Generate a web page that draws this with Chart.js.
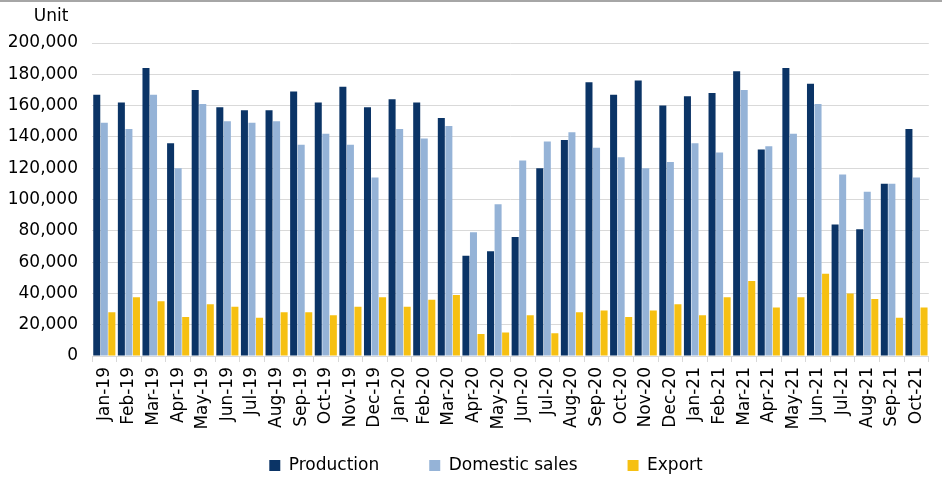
<!DOCTYPE html>
<html>
<head>
<meta charset="utf-8">
<script src="https://cdn.jsdelivr.net/npm/chart.js@4.4.1/dist/chart.umd.min.js"></script>
<style>
  html, body { margin: 0; padding: 0; background: #fff; }
  #wrap { width: 942px; height: 479px; position: relative; box-sizing: border-box; border-top: 2px solid #a6a6a6; }
</style>
</head>
<body>
<div id="wrap"><canvas id="chart"></canvas></div>
<script>
// Monthly vehicle figures, Jan 2019 - Oct 2021
const months = [
  'Jan-19', 'Feb-19', 'Mar-19', 'Apr-19', 'May-19', 'Jun-19', 'Jul-19', 'Aug-19', 'Sep-19', 'Oct-19', 'Nov-19', 'Dec-19',
  'Jan-20', 'Feb-20', 'Mar-20', 'Apr-20', 'May-20', 'Jun-20', 'Jul-20', 'Aug-20', 'Sep-20', 'Oct-20', 'Nov-20', 'Dec-20',
  'Jan-21', 'Feb-21', 'Mar-21', 'Apr-21', 'May-21', 'Jun-21', 'Jul-21', 'Aug-21', 'Sep-21', 'Oct-21'
];

const production = [
  167000, 162000, 184000, 136000, 170000, 159000, 157000, 157000, 169000, 162000, 172000, 159000,
  164000, 162000, 152000, 64000, 67000, 76000, 120000, 138000, 175000, 167000, 176000, 160000,
  166000, 168000, 182000, 132000, 184000, 174000, 84000, 81000, 110000, 145000
];

const domesticSales = [
  149000, 145000, 167000, 120000, 161000, 150000, 149000, 150000, 135000, 142000, 135000, 114000,
  145000, 139000, 147000, 79000, 97000, 125000, 137000, 143000, 133000, 127000, 120000, 124000,
  136000, 130000, 170000, 134000, 142000, 161000, 116000, 105000, 110000, 114000
];

const exportUnits = [
  28000, 37500, 35000, 25000, 33000, 31500, 24500, 28000, 28000, 26000, 31500, 37500,
  31500, 36000, 39000, 14000, 15000, 26000, 14500, 28000, 29000, 25000, 29000, 33000,
  26000, 37500, 48000, 31000, 37500, 52500, 40000, 36500, 24500, 31000
];

const yTicks = [0, 20000, 40000, 60000, 80000, 100000, 120000, 140000, 160000, 180000, 200000];

const FONT = "'DejaVu Sans', Verdana, sans-serif";
const GRID = '#d9d9d9';

// "Unit" caption above the value axis
const unitLabel = {
  id: 'unitLabel',
  afterDraw(chart) {
    const ctx = chart.ctx;
    ctx.save();
    ctx.font = '17px ' + FONT;
    ctx.fillStyle = '#000';
    ctx.textAlign = 'center';
    ctx.textBaseline = 'middle';
    ctx.fillText('Unit', 51, 15);
    ctx.restore();
  }
};

// the legend padding is wide to space the items apart; cap the box height
// so it does not eat the room needed by the rotated month labels, and
// nudge the row a little to the right
const legendFit = {
  id: 'legendFit',
  beforeLayout(chart) {
    const lg = chart.legend;
    if (lg && !lg._fitWrapped) {
      const fit = lg.fit.bind(lg);
      lg.fit = function () {
        fit();
        this.height = 72;
        this.lineWidths[0] -= 34;
      };
      lg._fitWrapped = true;
    }
  }
};

new Chart(document.getElementById('chart'), {
  type: 'bar',
  data: {
    labels: months,
    datasets: [
      { label: 'Production', data: production, backgroundColor: '#0b3466' },
      { label: 'Domestic sales', data: domesticSales, backgroundColor: '#95b3d7' },
      { label: 'Export', data: exportUnits, backgroundColor: '#f6c012' }
    ]
  },
  options: {
    responsive: true,
    maintainAspectRatio: false,
    animation: false,
    datasets: {
      bar: { categoryPercentage: 0.92, barPercentage: 0.93 }
    },
    layout: { padding: { top: 41, left: 4, right: 8, bottom: 0 } },
    plugins: {
      tooltip: { enabled: false },
      legend: {
        position: 'bottom',
        labels: {
          font: { family: FONT, size: 17 },
          color: '#000',
          boxWidth: 11,
          boxHeight: 11,
          padding: 50
        }
      }
    },
    scales: {
      x: {
        afterFit(scale) {
          scale.height = 51;
          // month labels run past the shortened box, so don't clip them to it
          scale._computeLabelArea = () => undefined;
        },
        grid: {
          offset: true,
          drawOnChartArea: false,
          drawTicks: true,
          tickLength: 6,
          color: GRID
        },
        border: { display: true, color: GRID },
        ticks: {
          autoSkip: false,
          minRotation: 90,
          maxRotation: 90,
          padding: 5,
          font: { family: FONT, size: 17 },
          color: '#000'
        }
      },
      y: {
        min: 0,
        max: 200000,
        afterFit(scale) { scale.width = 88; },
        afterBuildTicks(scale) {
          scale.ticks = yTicks.map(v => ({ value: v }));
        },
        grid: { color: GRID, drawTicks: false },
        border: { display: false },
        ticks: {
          padding: 14,
          font: { family: FONT, size: 17 },
          color: '#000',
          callback: v => v.toLocaleString('en-US')
        }
      }
    }
  },
  plugins: [unitLabel, legendFit]
});
</script>
</body>
</html>
